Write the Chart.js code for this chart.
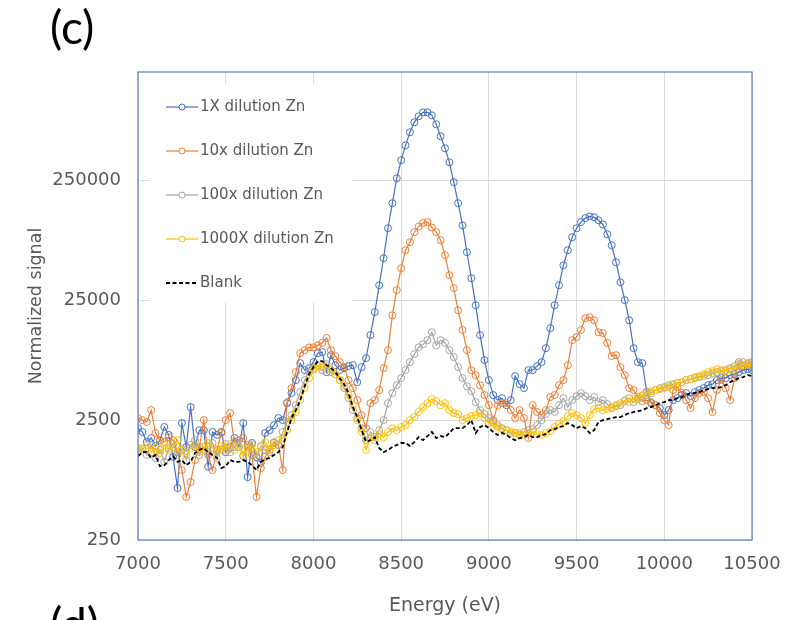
<!DOCTYPE html>
<html>
<head>
<meta charset="utf-8">
<script src="https://cdn.jsdelivr.net/npm/chart.js@4.4.1/dist/chart.umd.min.js"></script>
<style>
  body { margin: 0; background: #fff; }
  #wrap { position: relative; width: 807px; height: 620px; overflow: hidden; }
  .panel { position: absolute; left: 50px; font-family: Lato, sans-serif; font-size: 46px; line-height: 1; color: #000; }
</style>
</head>
<body>
<div id="wrap">
  <canvas id="zn"></canvas>
  <div class="panel" style="top:4px">(c)</div>
  <div class="panel" style="top:601px">(d)</div>
</div>
<script>
// energy grid (eV), shared by every scan
const energy = [
  7000, 7025, 7050, 7075, 7100, 7125, 7150, 7175, 7200, 7225,
  7250, 7275, 7300, 7325, 7350, 7375, 7400, 7425, 7450, 7475,
  7500, 7525, 7550, 7575, 7600, 7625, 7650, 7675, 7700, 7725,
  7750, 7775, 7800, 7825, 7850, 7875, 7900, 7925, 7950, 7975,
  8000, 8025, 8050, 8075, 8100, 8125, 8150, 8175, 8200, 8225,
  8250, 8275, 8300, 8325, 8350, 8375, 8400, 8425, 8450, 8475,
  8500, 8525, 8550, 8575, 8600, 8625, 8650, 8675, 8700, 8725,
  8750, 8775, 8800, 8825, 8850, 8875, 8900, 8925, 8950, 8975,
  9000, 9025, 9050, 9075, 9100, 9125, 9150, 9175, 9200, 9225,
  9250, 9275, 9300, 9325, 9350, 9375, 9400, 9425, 9450, 9475,
  9500, 9525, 9550, 9575, 9600, 9625, 9650, 9675, 9700, 9725,
  9750, 9775, 9800, 9825, 9850, 9875, 9900, 9925, 9950, 9975,
  10000, 10025, 10050, 10075, 10100, 10125, 10150, 10175, 10200, 10225,
  10250, 10275, 10300, 10325, 10350, 10375, 10400, 10425, 10450, 10475,
  10500
];

const dil1x = [
  2140, 1990, 1640, 1770, 1520, 1700, 2190, 1880, 1230, 678,
  2360, 1490, 3210, 1490, 2060, 2060, 1020, 1990, 1880, 1990,
  1350, 1490, 1770, 1490, 2360, 837, 1610, 1230, 1100, 1950,
  2060, 2270, 2600, 2500, 3460, 4200, 5390, 7460, 6530, 6780,
  7610, 9040, 9220, 6280, 8700, 7180, 6530, 6780, 7050, 7180,
  5180, 6910, 8220, 12800, 19900, 33300, 56000, 99500, 161000, 260000,
  367000, 489000, 628000, 761000, 854000, 922000, 922000, 870000, 732000, 582000,
  462000, 353000, 241000, 161000, 105000, 62800, 38100, 22700, 12800, 7910,
  5390, 4040, 3670, 3810, 3330, 3670, 5820, 4990, 4620, 6530,
  6530, 7050, 7610, 9950, 14600, 22700, 33300, 48900, 65300, 83700,
  99500, 112000, 121000, 125000, 123000, 116000, 107000, 88700, 71800, 51800,
  35300, 25000, 17000, 9950, 7610, 7460, 4280, 3460, 3330, 3150,
  2750, 3030, 3670, 3810, 4040, 4200, 3960, 4280, 4450, 4620,
  4890, 4990, 5390, 5600, 5600, 5930, 6040, 6280, 6530, 6650,
  6530
];

const dil10x = [
  2600, 2500, 2410, 3030, 1950, 1700, 1640, 1800, 1700, 1350,
  958, 571, 761, 1160, 1490, 2500, 1280, 958, 1410, 1950,
  2500, 2860, 1640, 1700, 1770, 1550, 1280, 571, 995, 1230,
  1410, 1610, 1550, 958, 3530, 4620, 6280, 9040, 9580, 10100,
  10100, 10500, 11000, 12100, 9580, 8540, 7610, 6910, 5390, 4620,
  3670, 2750, 2140, 3460, 3670, 4450, 6780, 9580, 18700, 30300,
  46200, 65300, 76100, 92200, 103000, 110000, 112000, 101000, 92200, 79100,
  59300, 40400, 31500, 20600, 14100, 9580, 6530, 5930, 4890, 4040,
  3330, 2500, 3330, 3460, 3460, 3030, 2600, 3030, 2600, 1770,
  3330, 2920, 2750, 3030, 3890, 4040, 4890, 5390, 7180, 11600,
  12300, 14100, 17700, 18000, 17000, 13500, 13300, 11000, 8540, 8700,
  6910, 5930, 4620, 4450, 3890, 3600, 3670, 3530, 3330, 2860,
  2500, 2270, 4450, 4710, 4200, 3670, 3150, 3810, 4200, 4280,
  3810, 2920, 4450, 5390, 4620, 3670, 5600, 7610, 7050, 7320,
  7610
];

const dil100x = [
  1350, 1460, 1280, 1550, 1210, 1410, 1120, 1460, 1580, 1280,
  1430, 1160, 1550, 1700, 1280, 1490, 1350, 1610, 1210, 1430,
  1580, 1350, 1490, 1700, 1250, 1490, 1380, 1210, 1520, 1410,
  1350, 1640, 1550, 1990, 2410, 2750, 3330, 4280, 5390, 6280,
  6780, 7050, 6530, 7320, 6280, 6040, 5390, 4620, 3810, 3030,
  2600, 2140, 1700, 1990, 1800, 2060, 2500, 3460, 4200, 4890,
  5600, 6530, 7610, 8870, 10100, 10700, 11600, 13500, 10500, 11600,
  11000, 9580, 8380, 6910, 5600, 4800, 4360, 3530, 3030, 2810,
  2600, 2410, 2270, 2140, 2060, 1950, 1950, 1880, 1990, 2060,
  2100, 2270, 2500, 2810, 3030, 2920, 3330, 3810, 3210, 3670,
  3960, 4200, 3960, 3670, 3890, 3530, 3670, 3400, 3150, 3270,
  3330, 3600, 3810, 3530, 3740, 3960, 4040, 4200, 4450, 4620,
  4710, 4890, 4990, 5090, 5180, 5390, 5490, 5600, 5710, 5820,
  5930, 6160, 6280, 6400, 6530, 6780, 7050, 7320, 7610, 7460,
  7180
];

const dil1000x = [
  1460, 1410, 1550, 1350, 1460, 1330, 1550, 1410, 1490, 1700,
  1410, 1280, 1460, 1550, 1350, 1410, 1610, 1460, 1350, 1520,
  1410, 1580, 1410, 1490, 1280, 1430, 1550, 1350, 1490, 1640,
  1430, 1550, 1700, 1770, 2060, 2500, 2920, 3670, 4620, 5600,
  6530, 7180, 6910, 7050, 6530, 6040, 5390, 4800, 4040, 3330,
  2500, 1990, 1410, 1800, 1700, 1910, 1800, 1990, 2140, 2060,
  2190, 2270, 2500, 2650, 2920, 3210, 3460, 3740, 3600, 3330,
  3460, 3030, 2860, 2810, 2500, 2600, 2700, 2750, 2860, 2600,
  2360, 2320, 2190, 2100, 2060, 2020, 1950, 1950, 1880, 1950,
  1990, 1910, 1880, 1950, 2020, 2190, 2320, 2450, 2700, 2860,
  2750, 2600, 2360, 2750, 3090, 3150, 3030, 3090, 3210, 3330,
  3460, 3670, 3530, 3740, 3890, 4040, 4200, 4360, 4450, 4530,
  4620, 4710, 4890, 5090, 5180, 5390, 5490, 5710, 5820, 6040,
  6280, 6400, 6650, 6530, 6400, 6650, 6780, 7050, 7180, 7320,
  7050
];

const blank = [
  1250, 1350, 1350, 1210, 1280, 1030, 1050, 1160, 1250, 1120,
  1160, 1050, 1120, 1330, 1410, 1460, 1350, 1280, 1210, 995,
  1030, 1160, 1120, 1120, 1160, 1120, 1050, 958, 1120, 1180,
  1210, 1280, 1350, 1490, 1990, 2600, 3030, 3670, 4800, 6040,
  6910, 7760, 7760, 7180, 6780, 6280, 5600, 4990, 4200, 3210,
  2650, 2060, 1640, 1700, 1800, 1460, 1350, 1410, 1490, 1550,
  1610, 1610, 1520, 1640, 1800, 1700, 1840, 1990, 1770, 1840,
  1800, 1950, 2140, 2140, 2140, 2270, 2500, 1950, 2190, 2270,
  2140, 1990, 1880, 1950, 1880, 1770, 1700, 1770, 1800, 1880,
  1800, 1800, 1880, 1910, 2060, 2100, 2190, 2230, 2360, 2270,
  2140, 2230, 2140, 1950, 2060, 2410, 2500, 2550, 2600, 2650,
  2650, 2750, 2860, 2920, 2970, 3030, 3150, 3210, 3330, 3460,
  3530, 3670, 3670, 3810, 3890, 4040, 4200, 4200, 4280, 4450,
  4530, 4620, 4620, 4710, 4890, 5180, 5390, 5600, 5710, 5930,
  5820
];

const yTicks = [250, 2500, 25000, 250000];
const textGrey = "#595959";
Chart.defaults.font.family = "'DejaVu Sans', sans-serif";
Chart.defaults.color = textGrey;

const series = [
  { label: "1X dilution Zn", values: dil1x, color: "#4472c4" },
  { label: "10x dilution Zn", values: dil10x, color: "#ed7d31" },
  { label: "100x dilution Zn", values: dil100x, color: "#a5a5a5" },
  { label: "1000X dilution Zn", values: dil1000x, color: "#ffc000" },
  { label: "Blank", values: blank, color: "#000000", dashed: true },
];

const datasets = series.map((s, i) => ({
  label: s.label,
  data: s.values.map((v, k) => ({ x: energy[k], y: v })),
  borderColor: s.color,
  backgroundColor: s.color,
  borderWidth: s.dashed ? 1.8 : 1.2,
  borderDash: s.dashed ? [4, 2.5] : [],
  pointRadius: s.dashed ? 0 : 3.5,
  pointBorderWidth: 1,
  pointBackgroundColor: "rgba(255,255,255,0)",
  pointBorderColor: s.color,
  tension: 0,
  order: series.length - i, // later series sit on top, blank last
}));

// white legend box drawn inside the plot, over the grid
const insideLegend = {
  id: "insideLegend",
  afterDatasetsDraw(chart) {
    const { ctx, chartArea } = chart;
    const x0 = chartArea.left + 12;
    ctx.save();
    ctx.fillStyle = "#fff";
    ctx.fillRect(x0, chartArea.top + 12, 202, 219);
    chart.data.datasets.forEach((ds, i) => {
      const y = chartArea.top + 35 + i * 44;
      ctx.strokeStyle = ds.borderColor;
      ctx.lineWidth = ds.borderWidth;
      ctx.setLineDash(ds.borderDash);
      ctx.beginPath();
      ctx.moveTo(x0 + 16, y);
      ctx.lineTo(x0 + 48, y);
      ctx.stroke();
      ctx.setLineDash([]);
      if (ds.pointRadius) {
        ctx.lineWidth = 1;
        ctx.fillStyle = "#fff";
        ctx.beginPath();
        ctx.arc(x0 + 32, y, 3, 0, Math.PI * 2);
        ctx.fill();
        ctx.stroke();
      }
      ctx.fillStyle = textGrey;
      ctx.font = "15px 'DejaVu Sans'";
      ctx.textBaseline = "middle";
      ctx.fillText(ds.label, x0 + 50, y);
    });
    ctx.restore();
  },
};

const plotBorder = {
  id: "plotBorder",
  afterDraw(chart) {
    const { ctx, chartArea: a } = chart;
    ctx.save();
    ctx.strokeStyle = "#5a7fc6";
    ctx.lineWidth = 1.2;
    ctx.strokeRect(a.left, a.top, a.right - a.left, a.bottom - a.top);
    ctx.restore();
  },
};

new Chart(document.getElementById("zn"), {
  type: "line",
  data: { datasets },
  options: {
    responsive: true,
    maintainAspectRatio: false,
    animation: false,
    layout: { padding: { top: 72, right: 55, left: 0, bottom: 0 } },
    plugins: { legend: { display: false }, tooltip: { enabled: false } },
    scales: {
      x: {
        type: "linear",
        min: 7000,
        max: 10500,
        grid: { color: "#d9d9d9", drawTicks: false },
        border: { display: false },
        ticks: { stepSize: 500, padding: 14, font: { size: 18 }, callback: (v) => String(v) },
        title: { display: true, text: "Energy (eV)", font: { size: 19 }, padding: { top: 0, bottom: 3 } },
        afterFit: (scale) => { scale.height = 80; },
      },
      y: {
        type: "logarithmic",
        min: 250,
        max: 2000000,
        grid: { color: "#d9d9d9", drawTicks: false },
        border: { display: false },
        afterBuildTicks: (scale) => { scale.ticks = yTicks.map((v) => ({ value: v })); },
        ticks: { padding: 17, font: { size: 18 }, callback: (v) => String(v) },
        title: { display: true, text: "Normalized signal", font: { size: 17.5 }, padding: { top: 26, bottom: 0 } },
        afterFit: (scale) => { scale.width = 138; },
      },
    },
  },
  plugins: [insideLegend, plotBorder],
});
</script>
</body>
</html>
